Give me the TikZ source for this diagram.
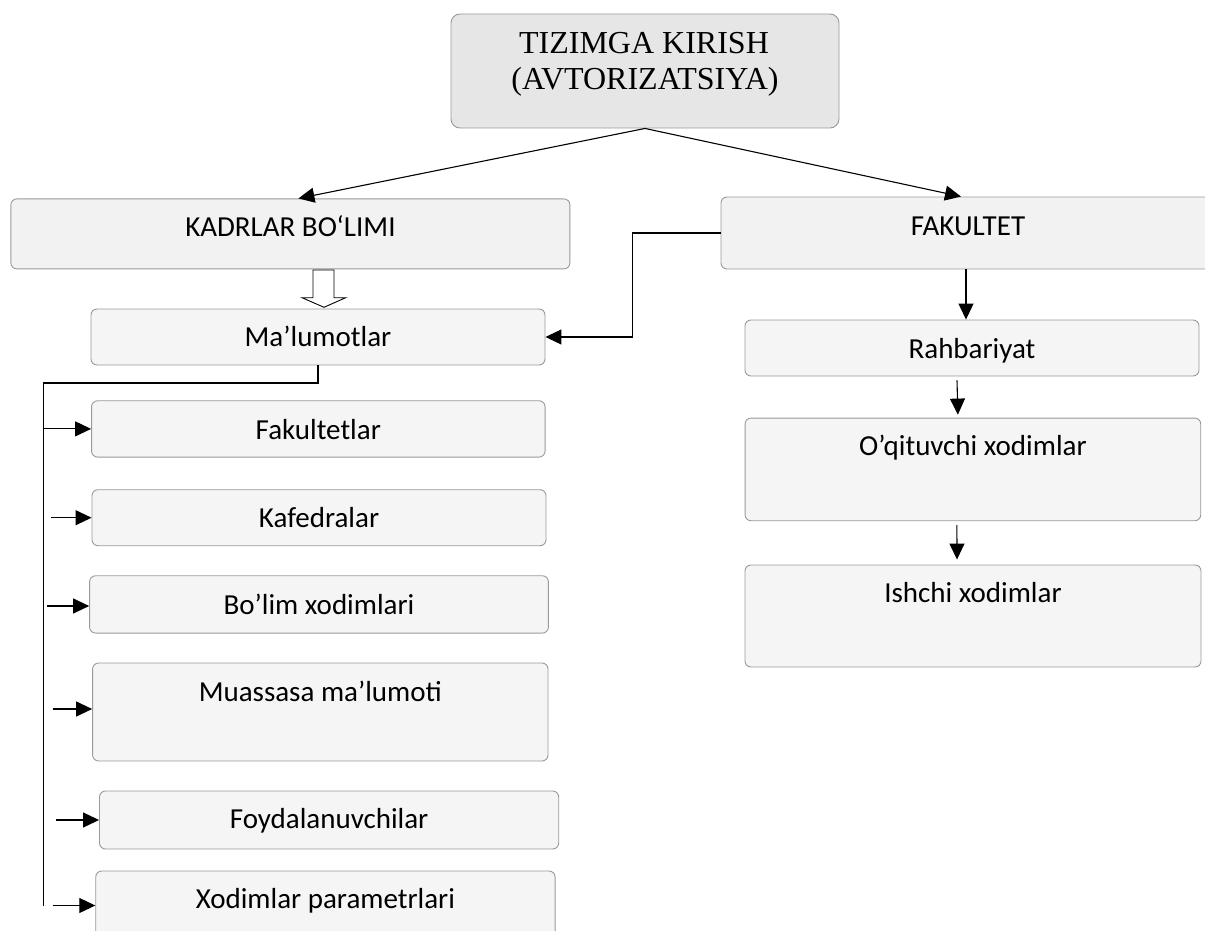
\documentclass[tikz,border=0pt]{standalone}
\usepackage{fontspec}
\setmainfont{Carlito}
\newfontfamily\serifa{Liberation Serif}
\usetikzlibrary{arrows.meta}
\definecolor{bordc}{HTML}{9A9A9A}
\definecolor{topfill}{HTML}{E6E6E6}
\definecolor{boxfillA}{HTML}{F2F2F2}
\definecolor{boxfillB}{HTML}{F5F5F5}
\begin{document}
\begin{tikzpicture}[x=1pt,y=-1pt,
  box/.style={draw=bordc, line width=0.9pt, fill=boxfillB, rounded corners=6pt, inner sep=0pt},
  lbl/.style={font=\fontsize{29}{35}\selectfont, anchor=base, inner sep=0pt},
  ttl/.style={font=\serifa\fontsize{32}{36}\selectfont, anchor=base, inner sep=0pt},
  conn/.style={line width=1.1pt, -{Triangle[length=16pt,width=15pt]}},
  wire/.style={line width=1.1pt}]
\useasboundingbox (0,0) rectangle (1205,931);
\clip (0,0) rectangle (1205,931);
\fill[white] (0,0) rectangle (1205,931);

% boxes
\node[box, fill=topfill, rounded corners=9pt, minimum width=388pt, minimum height=114pt] (top) at (645,71) {};
\node[box, fill=boxfillA, minimum width=559pt, minimum height=70pt] (kadr) at (290.4,233.9) {};
\node[box, fill=boxfillA, minimum width=494pt, minimum height=72pt] (fak) at (968,233) {};
\node[box, minimum width=454pt, minimum height=56pt] (mal) at (318,337) {};
\node[box, minimum width=453.5pt, minimum height=56.3pt] (fk) at (318.3,428.9) {};
\node[box, minimum width=454pt, minimum height=56pt] (kaf) at (319,517.7) {};
\node[box, minimum width=458.8pt, minimum height=57.3pt] (bol) at (319,604.4) {};
\node[box, minimum width=455.4pt, minimum height=98pt] (mua) at (320.3,712) {};
\node[box, minimum width=459.2pt, minimum height=58pt] (foy) at (329.1,820) {};
\node[box, minimum width=459.3pt, minimum height=69pt] (xod) at (325.4,905.5) {};
\node[box, minimum width=454pt, minimum height=56pt] (rah) at (972,348) {};
\node[box, minimum width=455.7pt, minimum height=102.7pt] (oq) at (972.9,469.4) {};
\node[box, minimum width=456pt, minimum height=102pt] (ish) at (973,616) {};

% texts
\node[ttl] (t1) at (644,53.3) {TIZIMGA KIRISH};
\node[ttl] (t2) at (645,89.3) {(AVTORIZATSIYA)};
\node[lbl] (kadr-t) at (290.4,236.7) {KADRLAR BO‘LIMI};
\node[lbl] (fak-t) at (968,235) {FAKULTET};
\node[lbl] (mal-t) at (318,346.7) {Ma’lumotlar};
\node[lbl] (fk-t) at (318.3,439.3) {Fakultetlar};
\node[lbl] (kaf-t) at (319,527.7) {Kafedralar};
\node[lbl] (bol-t) at (319,614) {Bo’lim xodimlari};
\node[lbl] (mua-t) at (320.3,701.7) {Muassasa ma’lumoti};
\node[lbl] (foy-t) at (329.1,828.7) {Foydalanuvchilar};
\node[lbl] (xod-t) at (325.4,908.7) {Xodimlar parametrlari};
\node[lbl] (rah-t) at (972,358.3) {Rahbariyat};
\node[lbl] (oq-t) at (972.9,455.7) {O’qituvchi xodimlar};
\node[lbl] (ish-t) at (973,602.7) {Ishchi xodimlar};

% connectors from top box
\draw[conn] (top.south) -- ([xshift=8pt]kadr.north);
\draw[conn] (top.south) -- ([xshift=-7pt]fak.north);

% hollow block arrow
\draw[black, line width=0.9pt, fill=white] (313,270) -- (334,270) -- (334,297.7) -- (345.7,297.7) -- (324,307.3) -- (302,297.7) -- (313,297.7) -- cycle;

% FAKULTET -> Ma'lumotlar
\draw[conn] (fak.west) -- ++(-88,0) |- (mal.east);

% FAKULTET chain
\draw[conn] ([xshift=-2pt]fak.south) -- ([xshift=-2pt]fak.south |- rah.north);
\draw[conn] ([xshift=-15pt,yshift=-4pt]rah.south) -- ([xshift=-15pt,yshift=3pt]oq.north);
\draw[conn] ([xshift=-16pt,yshift=-4pt]oq.south) -- ([xshift=-16pt,yshift=5pt]ish.north);

% Ma'lumotlar bus
\coordinate (bt) at (43.5,383);
\coordinate (bb) at (43.5,906);
\draw[wire] (mal.south) |- (bt) -- (bb);
\draw[conn] (bt |- fk.west) -- (fk.west);
\draw[conn] ([xshift=-41pt]kaf.west) -- (kaf.west);
\draw[conn] ([xshift=-42.6pt,yshift=-1.6pt]bol.west) -- ([yshift=-1.6pt]bol.west);
\draw[conn] ([xshift=-39.6pt,yshift=3pt]mua.west) -- ([yshift=3pt]mua.west);
\draw[conn] ([xshift=-43.5pt]foy.west) -- (foy.west);
\draw[conn] ([xshift=-42.7pt]xod.west) -- (xod.west);
\end{tikzpicture}
\end{document}
